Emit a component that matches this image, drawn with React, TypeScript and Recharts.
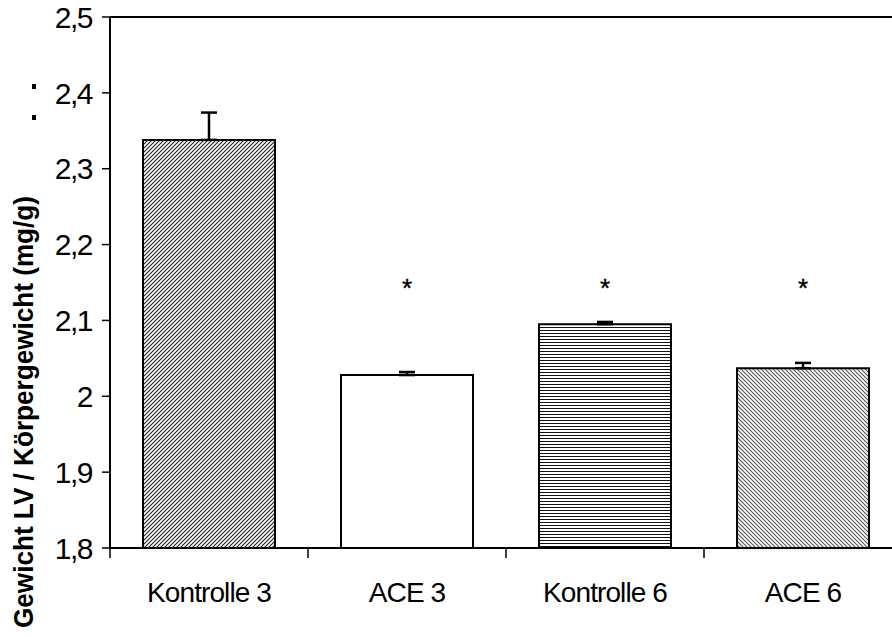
import React from 'react';
import { ComposedChart, Bar, ErrorBar, Scatter, XAxis, YAxis, ReferenceLine, Cell, Label } from 'recharts';

// categories and values
const groups = ['Kontrolle 3', 'ACE 3', 'Kontrolle 6', 'ACE 6'];
const ratios = [2.338, 2.028, 2.095, 2.037];
const errUp = [0.036, 0.004, 0.003, 0.007];
const starLevel = [null, 2.15, 2.15, 2.15];
const yTicks = [1.8, 1.9, 2, 2.1, 2.2, 2.3, 2.4, 2.5];
const fills = ['url(#hatchDark)', '#ffffff', 'url(#hLines)', 'url(#hatchLight)'];

const FONT = '"Liberation Sans", Arial, sans-serif';
const CHART_W = 910;
const CHART_H = 637;
const Y_AXIS_W = 110;
const MARGIN = { top: 17, right: 8, left: 0, bottom: 0 };
const BAND = (CHART_W - Y_AXIS_W - MARGIN.right - MARGIN.left) / groups.length;
const X_TICK_GAP = 34;

const rows = groups.map((g, i) => ({
    group: g,
    ratio: ratios[i],
    err: [0, errUp[i]],
    star: starLevel[i],
}));

const CategoryTick = (props: any) => {
    const { x, y, payload } = props;
    const tx = x - BAND / 2;
    return (
        <g>
            <line x1={tx} x2={tx} y1={y - X_TICK_GAP} y2={y - X_TICK_GAP + 10} stroke="#000" strokeWidth={1.5} />
            <text x={x} y={y} dy="0.71em" textAnchor="middle" fontSize={28} fontFamily={FONT} letterSpacing={-0.9} fill="#000">
                {payload.value}
            </text>
        </g>
    );
};

const StarShape = (props: any) => {
    const { cx, cy, payload } = props;
    if (payload == null || payload.star == null || cx == null || cy == null) return <g />;
    return (
        <text x={cx} y={cy + 14} textAnchor="middle" fontSize={26} fontFamily={FONT} fill="#000" stroke="#000" strokeWidth={0.4}>*</text>
    );
};

const YTitle = () => (
    <g>
        <text
            x={33}
            y={412}
            transform="rotate(-90, 33, 412)"
            textAnchor="middle"
            fontSize={28}
            fontWeight="bold"
            fontFamily={FONT}
            textLength={432}
            lengthAdjust="spacingAndGlyphs"
            fill="#000"
        >
            Gewicht LV / Körpergewicht (mg/g)
        </text>
        <rect x={32} y={84} width={4} height={5} fill="#000" />
        <rect x={32} y={115} width={4} height={5} fill="#000" />
    </g>
);

export default function App() {
    return (
        <div style={{ position: 'absolute', left: 0, top: 0, width: 892, height: 637, overflow: 'hidden', background: '#fff' }}>
            <ComposedChart width={CHART_W} height={CHART_H} data={rows} margin={MARGIN}>
                <defs>
                    <pattern id="hatchDark" patternUnits="userSpaceOnUse" width={4} height={4}>
                        <rect width={4} height={4} fill="#fff" />
                        <path d="M-1,1 l2,-2 M0,4 l4,-4 M3,5 l2,-2" stroke="#222" strokeWidth={1.2} />
                    </pattern>
                    <pattern id="hatchLight" patternUnits="userSpaceOnUse" width={4} height={4}>
                        <rect width={4} height={4} fill="#fff" />
                        <path d="M-1,3 l2,2 M0,0 l4,4 M3,-1 l2,2" stroke="#555" strokeWidth={1.1} />
                    </pattern>
                    <pattern id="hLines" patternUnits="userSpaceOnUse" width={4} height={3}>
                        <rect width={4} height={3} fill="#fff" />
                        <line x1={0} x2={4} y1={0.5} y2={0.5} stroke="#111" strokeWidth={1} />
                    </pattern>
                </defs>
                <XAxis
                    dataKey="group"
                    height={CHART_H - 548 - MARGIN.bottom}
                    axisLine={{ stroke: '#000', strokeWidth: 2 }}
                    tickLine={false}
                    tickSize={0}
                    tickMargin={X_TICK_GAP}
                    tick={<CategoryTick />}
                    interval={0}
                />
                <YAxis
                    type="number"
                    domain={[1.8, 2.5]}
                    ticks={yTicks}
                    width={Y_AXIS_W}
                    allowDataOverflow
                    axisLine={{ stroke: '#000', strokeWidth: 2 }}
                    tickLine={{ stroke: '#000', strokeWidth: 1.5 }}
                    tickSize={8}
                    tickMargin={10}
                    tickFormatter={(v: number) => String(v).replace('.', ',')}
                    tick={{ fontSize: 30, fontFamily: FONT, fill: '#000', letterSpacing: -1.5 }}
                >
                    <Label content={<YTitle />} />
                </YAxis>
                <ReferenceLine y={2.5} stroke="#000" strokeWidth={2} />
                <Bar dataKey="ratio" barSize={132} stroke="#000" strokeWidth={2} isAnimationActive={false}>
                    {rows.map((r, i) => (
                        <Cell key={r.group} fill={fills[i]} />
                    ))}
                    <ErrorBar dataKey="err" direction="y" width={8} stroke="#000" strokeWidth={2.5} />
                </Bar>
                <Scatter dataKey="star" shape={<StarShape />} isAnimationActive={false} />
            </ComposedChart>
        </div>
    );
}
